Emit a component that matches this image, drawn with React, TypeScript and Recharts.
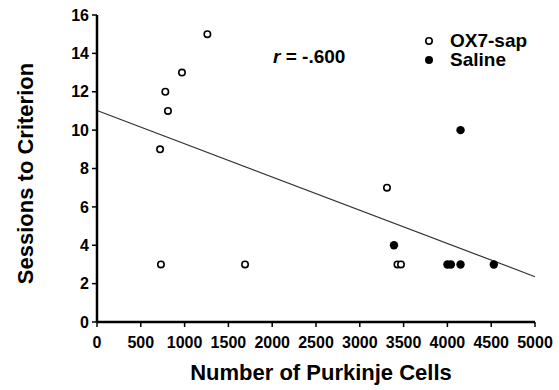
import React from "react";
import { ScatterChart, Scatter, XAxis, YAxis, ReferenceLine } from "recharts";

const FONT = '"Liberation Sans", Arial, Helvetica, sans-serif';

// OX7-sap (open circles)
const oxCells = [720, 780, 810, 970, 1260, 730, 1690, 3310, 3430, 3470];
const oxSessions = [9, 12, 11, 13, 15, 3, 3, 7, 3, 3];
// Saline (filled circles)
const salineCells = [4150, 3390, 4000, 4040, 4150, 4530];
const salineSessions = [10, 4, 3, 3, 3, 3];

const xTicks = [0, 500, 1000, 1500, 2000, 2500, 3000, 3500, 4000, 4500, 5000];
const yTicks = [0, 2, 4, 6, 8, 10, 12, 14, 16];

// regression line endpoints
const fitX = [0, 5000];
const fitY = [11.02, 2.36];

const rLabel = "-.600";
const seriesNames = ["OX7-sap", "Saline"];

const oxData = oxCells.map((x, i) => ({ x, y: oxSessions[i] }));
const salineData = salineCells.map((x, i) => ({ x, y: salineSessions[i] }));

const OpenDot = (p: any) => (
  <circle cx={p.cx} cy={p.cy} r={3.2} fill="#fff" stroke="#000" strokeWidth={1.6} />
);
const FilledDot = (p: any) => <circle cx={p.cx} cy={p.cy} r={4.2} fill="#000" />;

const tickStyle = { fontFamily: FONT, fontSize: 16, fontWeight: "bold", fill: "#000" };

export default function App() {
  return (
    <div style={{ position: "absolute", left: 0, top: 0, width: 559, height: 390, background: "#fff" }}>
      <ScatterChart width={559} height={390} margin={{ top: 15, right: 24, bottom: 0, left: 0 }}>
        <XAxis
          type="number"
          dataKey="x"
          domain={[0, 5000]}
          ticks={xTicks}
          interval={0}
          height={68}
          tick={tickStyle}
          tickSize={5}
          tickMargin={10}
          axisLine={{ stroke: "#000", strokeWidth: 2.5 }}
          tickLine={{ stroke: "#000", strokeWidth: 1.5 }}
          label={(props: any) => {
            const vb = props.viewBox;
            return (
              <text
                x={vb.x + vb.width / 2 + 5}
                y={vb.y + 58}
                textAnchor="middle"
                fontFamily={FONT}
                fontSize={22}
                fontWeight="bold"
                fill="#000"
              >
                Number of Purkinje Cells
              </text>
            );
          }}
        />
        <YAxis
          type="number"
          dataKey="y"
          domain={[0, 16]}
          ticks={yTicks}
          interval={0}
          width={97}
          tick={tickStyle}
          tickSize={5}
          tickMargin={3}
          axisLine={{ stroke: "#000", strokeWidth: 2.5 }}
          tickLine={{ stroke: "#000", strokeWidth: 1.5 }}
          label={(props: any) => {
            const vb = props.viewBox;
            const cx = vb.x + 25;
            const cy = vb.y + vb.height / 2 + 5;
            return (
              <text
                x={cx}
                y={cy}
                transform={`rotate(-90 ${cx} ${cy})`}
                textAnchor="middle"
                dominantBaseline="central"
                fontFamily={FONT}
                fontSize={22}
                fontWeight="bold"
                fill="#000"
              >
                Sessions to Criterion
              </text>
            );
          }}
        />
        <ReferenceLine
          segment={[
            { x: fitX[0], y: fitY[0] },
            { x: fitX[1], y: fitY[1] },
          ]}
          stroke="#333"
          strokeWidth={1.2}
          ifOverflow="visible"
        />
        <Scatter name={seriesNames[0]} data={oxData} shape={OpenDot} isAnimationActive={false} />
        <Scatter name={seriesNames[1]} data={salineData} shape={FilledDot} isAnimationActive={false} />
      </ScatterChart>

      <div
        style={{
          position: "absolute",
          left: 273,
          top: 45,
          fontFamily: FONT,
          fontSize: 19,
          fontWeight: "bold",
          lineHeight: "24px",
          whiteSpace: "nowrap",
          color: "#000",
        }}
      >
        <i>r</i> = {rLabel}
      </div>

      <div
        style={{
          position: "absolute",
          left: 422,
          top: 31,
          fontFamily: FONT,
          fontSize: 19,
          fontWeight: "bold",
          lineHeight: "19px",
          color: "#000",
          whiteSpace: "nowrap",
        }}
      >
        {seriesNames.map((name, i) => (
          <div key={name} style={{ display: "flex", alignItems: "center", height: 19 }}>
            <svg width={14} height={14} style={{ marginRight: 14 }}>
              {i === 0 ? (
                <circle cx={7} cy={7} r={3.2} fill="#fff" stroke="#000" strokeWidth={1.6} />
              ) : (
                <circle cx={7} cy={7} r={4} fill="#000" />
              )}
            </svg>
            <span>{name}</span>
          </div>
        ))}
      </div>
    </div>
  );
}
